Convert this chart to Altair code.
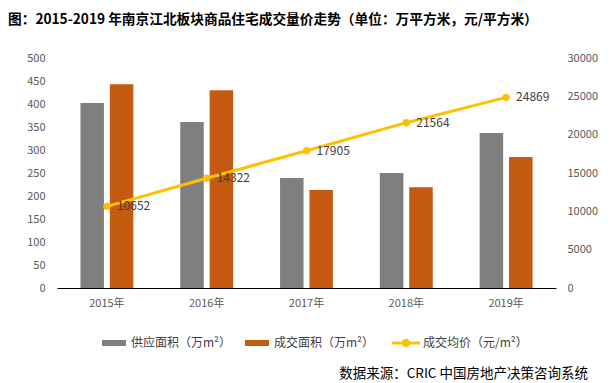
import altair as alt
import pandas as pd

years = ["2015年", "2016年", "2017年", "2018年", "2019年"]
supply = [402, 361, 239, 250, 337]
sales = [443, 430, 213, 219, 285]
price = [10652, 14322, 17905, 21564, 24869]

s_supply = "供应面积（万m²）"
s_sales = "成交面积（万m²）"
s_price = "成交均价（元/m²）"

FONT = "Noto Sans CJK SC"
W, H = 499, 230

bars_df = pd.DataFrame(
    [{"year": y, "series": s_supply, "value": v} for y, v in zip(years, supply)]
    + [{"year": y, "series": s_sales, "value": v} for y, v in zip(years, sales)]
)
line_df = pd.DataFrame({"year": years, "price": price, "series": [s_price] * len(years)})

xenc = alt.X(
    "year:N",
    sort=years,
    scale=alt.Scale(paddingInner=0.47, paddingOuter=0.235),
    axis=alt.Axis(title=None, labelAngle=0, ticks=False, domainColor="#000000",
                  domainWidth=1, labelColor="#595959", labelFontSize=11,
                  labelPadding=9, labelFont=FONT, grid=False),
)

bar_sym = "M-1,-0.25 H1 V0.25 H-1 Z"
line_sym = ("M-1,-0.11 H-0.3 V0.11 H-1 Z M0.3,-0.11 H1 V0.11 H0.3 Z "
            "M-0.3,0 A0.3,0.3 0 1,0 0.3,0 A0.3,0.3 0 1,0 -0.3,0 Z")

bars = alt.Chart(bars_df).mark_bar().encode(
    x=xenc,
    xOffset=alt.XOffset("series:N", sort=[s_supply, s_sales],
                        scale=alt.Scale(paddingInner=0.2, paddingOuter=0)),
    y=alt.Y("value:Q", scale=alt.Scale(domain=[0, 500]),
            axis=alt.Axis(title=None, values=list(range(0, 501, 50)), grid=False,
                          domain=False, ticks=False, labelColor="#595959",
                          labelFontSize=11, labelPadding=12, labelFont=FONT)),
    color=alt.Color("series:N",
                    scale=alt.Scale(domain=[s_supply, s_sales], range=["#7F7F7F", "#C55A11"]),
                    legend=alt.Legend(title=None, orient="none", legendX=45, legendY=273,
                                      direction="horizontal", symbolType=bar_sym,
                                      symbolSize=576, symbolStrokeWidth=0,
                                      labelFontSize=12, labelColor="#404040",
                                      labelFont=FONT, labelOffset=5, columnPadding=13)),
)

yR = alt.Y("price:Q", scale=alt.Scale(domain=[0, 30000]),
           axis=alt.Axis(title=None, orient="right", values=list(range(0, 30001, 5000)),
                         format="d", grid=False, domain=False, ticks=False,
                         labelColor="#595959", labelFontSize=11, labelPadding=11,
                         labelFont=FONT))

base = alt.Chart(line_df)
line = base.mark_line(color="#FFC000", strokeWidth=3).encode(x=xenc, y=yR)
pts = base.mark_circle(size=55, opacity=1).encode(
    x=xenc, y=yR,
    color=alt.Color("series:N", scale=alt.Scale(domain=[s_price], range=["#FFC000"]),
                    legend=alt.Legend(title=None, orient="none", legendX=335, legendY=271,
                                      symbolType=line_sym, symbolSize=784,
                                      symbolStrokeWidth=0, labelFontSize=12,
                                      labelColor="#404040", labelFont=FONT, labelOffset=3)),
)
labels = base.mark_text(align="left", baseline="middle", dx=10, fontSize=12,
                        color="#404040", font=FONT).encode(
    x=xenc, y=yR, text=alt.Text("price:Q", format="d"))

right = alt.layer(line, pts, labels)

source = alt.Chart(pd.DataFrame({"t": ["数据来源：CRIC 中国房地产决策咨询系统"]})).mark_text(
    align="right", baseline="middle", fontSize=13.5, color="#000000", font=FONT
).encode(x=alt.value(531), y=alt.value(316), text="t:N")

chart = alt.layer(bars, right, source).resolve_scale(
    y="independent", color="independent"
).properties(
    width=W, height=H, padding={"top": 5, "left": 0, "right": 0, "bottom": 0},
    title=alt.Title("图：2015-2019 年南京江北板块商品住宅成交量价走势（单位：万平方米，元/平方米）",
                    anchor="start", frame="group", dx=-49, offset=25, fontSize=13.7,
                    fontWeight="bold", font=FONT, color="#000000"),
).configure_view(stroke=None)

chart.save("out.html", embed_options={"renderer": "svg", "actions": False})
